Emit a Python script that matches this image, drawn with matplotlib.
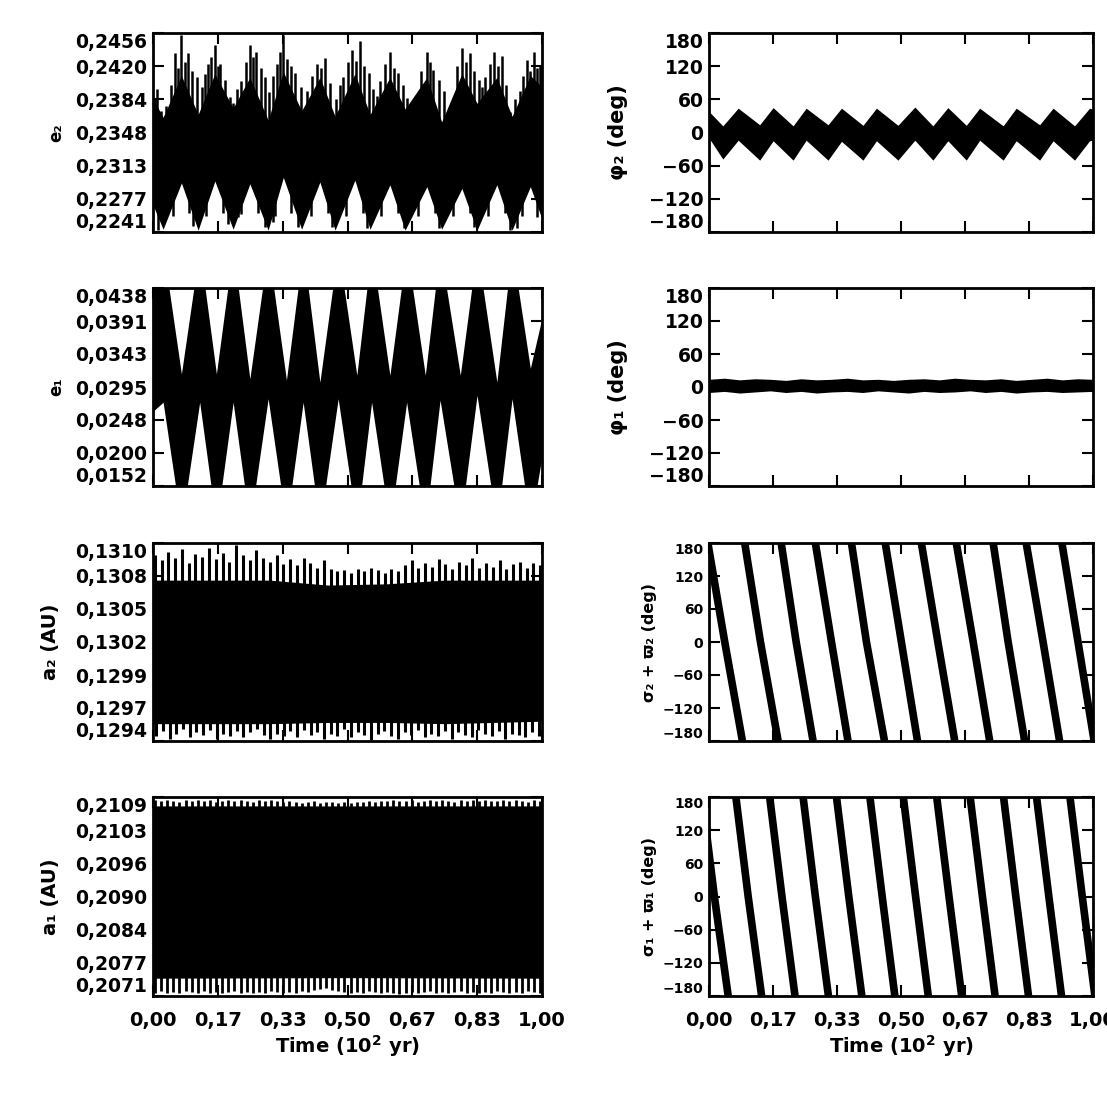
import matplotlib
matplotlib.use('Agg')
import matplotlib.pyplot as plt
import numpy as np

plt.rcParams['font.family'] = 'DejaVu Sans'
plt.rcParams['font.weight'] = 'bold'

# time in units of 10^2 yr
xticks = [0, 1/6, 2/6, 3/6, 4/6, 5/6, 1]
xticklabels = ['0,00', '0,17', '0,33', '0,50', '0,67', '0,83', '1,00']

# ---- e2 ----
e2_lim = [0.2241, 0.2456]
e2_ticks = ['0,2241', '0,2277', '0,2313', '0,2348', '0,2384', '0,2420', '0,2456']
e2_t = [0, 0.026, 0.073, 0.116, 0.159, 0.206, 0.249, 0.296, 0.335, 0.382, 0.429, 0.468,
        0.519, 0.558, 0.609, 0.648, 0.704, 0.742, 0.794, 0.833, 0.884, 0.923, 0.970, 1.0]
e2_hi = [0.2385, 0.2365, 0.2410, 0.2368, 0.2412, 0.2375, 0.2408, 0.2362, 0.2414, 0.2372, 0.2408, 0.2366,
         0.2412, 0.2368, 0.2408, 0.2374, 0.2408, 0.2360, 0.2412, 0.2380, 0.2408, 0.2366, 0.2410, 0.2398]
e2_lo = [0.2270, 0.2244, 0.2294, 0.2243, 0.2296, 0.2244, 0.2293, 0.2243, 0.2300, 0.2244, 0.2295, 0.2243,
         0.2297, 0.2244, 0.2292, 0.2243, 0.2290, 0.2244, 0.2288, 0.2243, 0.2292, 0.2243, 0.2290, 0.2255]
e2_up = [(0.004, 0.2385), (0.009, 0.2395), (0.020, 0.2372), (0.034, 0.2377), (0.045, 0.2400), (0.056, 0.2434),
         (0.065, 0.2418), (0.073, 0.2454), (0.082, 0.2425), (0.090, 0.2434), (0.100, 0.2415), (0.112, 0.2409),
         (0.125, 0.2398), (0.133, 0.2412), (0.142, 0.2423), (0.150, 0.2430), (0.159, 0.2443), (0.166, 0.2420),
         (0.172, 0.2423), (0.184, 0.2405), (0.197, 0.2387), (0.206, 0.2380), (0.215, 0.2396), (0.227, 0.2404),
         (0.238, 0.2425), (0.249, 0.2443), (0.258, 0.2430), (0.266, 0.2436), (0.277, 0.2418), (0.288, 0.2409),
         (0.298, 0.2392), (0.308, 0.2410), (0.318, 0.2423), (0.327, 0.2435), (0.335, 0.2454), (0.344, 0.2428),
         (0.355, 0.2420), (0.365, 0.2413), (0.380, 0.2398), (0.395, 0.2393), (0.408, 0.2410), (0.421, 0.2423),
         (0.432, 0.2418), (0.442, 0.2429), (0.455, 0.2402), (0.470, 0.2385), (0.480, 0.2400), (0.489, 0.2409),
         (0.500, 0.2425), (0.511, 0.2438), (0.521, 0.2426), (0.532, 0.2447), (0.543, 0.2420), (0.554, 0.2413),
         (0.566, 0.2395), (0.575, 0.2388), (0.584, 0.2404), (0.597, 0.2422), (0.609, 0.2436), (0.620, 0.2418),
         (0.631, 0.2413), (0.642, 0.2400), (0.652, 0.2386), (0.664, 0.2380), (0.678, 0.2389), (0.690, 0.2415),
         (0.704, 0.2436), (0.713, 0.2425), (0.721, 0.2416), (0.734, 0.2405), (0.747, 0.2393), (0.781, 0.2420),
         (0.794, 0.2440), (0.805, 0.2425), (0.815, 0.2434), (0.826, 0.2415), (0.837, 0.2405), (0.846, 0.2398),
         (0.854, 0.2409), (0.866, 0.2422), (0.876, 0.2436), (0.887, 0.2420), (0.897, 0.2431), (0.908, 0.2400),
         (0.918, 0.2371), (0.930, 0.2385), (0.944, 0.2393), (0.952, 0.2410), (0.961, 0.2427), (0.970, 0.2415),
         (0.979, 0.2436), (0.988, 0.2418), (0.996, 0.2420)]
e2_dn_t = [0.013, 0.030, 0.051, 0.093, 0.103, 0.137, 0.179, 0.193, 0.219, 0.227, 0.269, 0.288, 0.309,
           0.313, 0.355, 0.373, 0.407, 0.449, 0.459, 0.497, 0.539, 0.549, 0.587, 0.629, 0.644, 0.656,
           0.682, 0.724, 0.734, 0.772, 0.814, 0.824, 0.862, 0.904, 0.918, 0.935, 0.948, 0.987]
e2_dn = [0.2243, 0.2265, 0.2258, 0.2262, 0.2248, 0.2258, 0.2262, 0.2250, 0.2257, 0.2260, 0.2262, 0.2246, 0.2252,
         0.2258, 0.2262, 0.2246, 0.2258, 0.2262, 0.2246, 0.2258, 0.2262, 0.2245, 0.2258, 0.2262, 0.2245, 0.2257,
         0.2258, 0.2262, 0.2245, 0.2258, 0.2262, 0.2246, 0.2258, 0.2262, 0.2243, 0.2245, 0.2258, 0.2257]

# ---- e1 ----
e1_lim = [0.0152, 0.0438]
e1_ticks = ['0,0152', '0,0200', '0,0248', '0,0295', '0,0343', '0,0391', '0,0438']
e1_t = [0, 0.026, 0.073, 0.120, 0.163, 0.206, 0.249, 0.296, 0.343, 0.386, 0.429, 0.476,
        0.524, 0.562, 0.609, 0.652, 0.700, 0.738, 0.790, 0.833, 0.884, 0.923, 0.970, 1.0]
e1_hi = [0.0430, 0.0496, 0.0314, 0.0496, 0.0314, 0.0496, 0.0307, 0.0496, 0.0305, 0.0496, 0.0302, 0.0496,
         0.0312, 0.0496, 0.0312, 0.0496, 0.0312, 0.0496, 0.0312, 0.0496, 0.0302, 0.0496, 0.0322, 0.0395]
e1_lo = [0.0260, 0.0273, 0.0095, 0.0273, 0.0095, 0.0273, 0.0095, 0.0278, 0.0095, 0.0273, 0.0095, 0.0278,
         0.0095, 0.0273, 0.0095, 0.0273, 0.0095, 0.0276, 0.0095, 0.0283, 0.0095, 0.0278, 0.0095, 0.0195]

# ---- a2 ----
a2_lim = [0.1294, 0.1310]
a2_ticks = ['0,1294', '0,1297', '0,1299', '0,1302', '0,1305', '0,1308', '0,1310']
a2_core_t = [0, 0.30, 0.45, 0.60, 0.75, 1.0]
a2_core_hi = [0.13070, 0.13070, 0.13066, 0.13067, 0.13070, 0.13070]
a2_core_lo = [0.12954, 0.12954, 0.12955, 0.12955, 0.12954, 0.12956]
a2_up = [0.13090, 0.13086, 0.13093, 0.13088, 0.13095, 0.13084, 0.13091, 0.13089, 0.13096, 0.13087,
         0.13092, 0.13085, 0.13098, 0.13090, 0.13086, 0.13094, 0.13088, 0.13085, 0.13090, 0.13083,
         0.13087, 0.13082, 0.13088, 0.13084, 0.13080, 0.13086, 0.13079, 0.13077, 0.13078, 0.13076,
         0.13079, 0.13077, 0.13080, 0.13078, 0.13076, 0.13079, 0.13077, 0.13082, 0.13086, 0.13080,
         0.13084, 0.13081, 0.13087, 0.13083, 0.13079, 0.13085, 0.13082, 0.13088, 0.13080, 0.13084,
         0.13081, 0.13086, 0.13079, 0.13083, 0.13085, 0.13080, 0.13084, 0.13082]
a2_dn = [0.12944, 0.12948, 0.12942, 0.12946, 0.12950, 0.12943, 0.12947, 0.12945, 0.12949, 0.12942,
         0.12946, 0.12944, 0.12948, 0.12943, 0.12947, 0.12950, 0.12945, 0.12942, 0.12946, 0.12944,
         0.12948, 0.12943, 0.12949, 0.12945, 0.12947, 0.12942, 0.12946, 0.12944, 0.12950, 0.12943,
         0.12947, 0.12945, 0.12941, 0.12946, 0.12948, 0.12944, 0.12942, 0.12947, 0.12945, 0.12949,
         0.12943, 0.12946, 0.12944, 0.12948, 0.12942, 0.12947, 0.12945, 0.12943, 0.12949, 0.12946,
         0.12944, 0.12948, 0.12942, 0.12946, 0.12945, 0.12943, 0.12947, 0.12944]

# ---- a1 ----
a1_lim = [0.2071, 0.2109]
a1_ticks = ['0,2071', '0,2077', '0,2084', '0,2090', '0,2096', '0,2103', '0,2109']
a1_core_t = [0, 0.5, 1.0]
a1_core_hi = [0.21073, 0.21073, 0.21073]
a1_core_lo = [0.20744, 0.20745, 0.20744]
a1_up = [0.21084, 0.21082, 0.21085, 0.21083, 0.21081, 0.21084, 0.21082, 0.21085, 0.21083, 0.21084,
         0.21081, 0.21083, 0.21085, 0.21082, 0.21084, 0.21083, 0.21081, 0.21084, 0.21082, 0.21085,
         0.21083, 0.21080, 0.21082, 0.21081, 0.21079, 0.21080, 0.21082, 0.21079, 0.21081, 0.21080,
         0.21078, 0.21080, 0.21079, 0.21081, 0.21080, 0.21082, 0.21081, 0.21083, 0.21082, 0.21084,
         0.21083, 0.21082, 0.21084, 0.21081, 0.21083, 0.21085, 0.21082, 0.21084, 0.21083, 0.21081,
         0.21084, 0.21082, 0.21085, 0.21083, 0.21084, 0.21082, 0.21083, 0.21085, 0.21082, 0.21084,
         0.21083, 0.21081, 0.21084, 0.21082]
a1_dn = [0.20716, 0.20719, 0.20715, 0.20718, 0.20716, 0.20720, 0.20717, 0.20715, 0.20719, 0.20716,
         0.20718, 0.20715, 0.20717, 0.20719, 0.20716, 0.20718, 0.20715, 0.20717, 0.20716, 0.20719,
         0.20717, 0.20715, 0.20718, 0.20716, 0.20719, 0.20717, 0.20721, 0.20724, 0.20726, 0.20722,
         0.20719, 0.20717, 0.20715, 0.20718, 0.20716, 0.20719, 0.20717, 0.20715, 0.20718, 0.20716,
         0.20714, 0.20716, 0.20718, 0.20715, 0.20717, 0.20719, 0.20716, 0.20718, 0.20715, 0.20717,
         0.20719, 0.20716, 0.20718, 0.20715, 0.20717, 0.20716, 0.20719, 0.20717, 0.20715, 0.20718,
         0.20716, 0.20719, 0.20717, 0.20716]

# ---- angles (deg) ----
deg_ticks = [-180, -120, -60, 0, 60, 120, 180]
deg_labels = ['−180', '−120', '−60', '0', '60', '120', '180']
phi2_t = [0, 0.036, 0.076, 0.132, 0.167, 0.219, 0.253, 0.310, 0.345, 0.401, 0.436, 0.492,
          0.536, 0.583, 0.622, 0.670, 0.705, 0.766, 0.800, 0.861, 0.896, 0.952, 0.991, 1.0]
phi2_hi = [38, 12, 44, 14, 45, 12, 44, 14, 44, 13, 44, 13, 46, 12, 45, 13, 44, 12, 44, 14, 44, 12, 44, 42]
phi2_lo = [-10, -48, -14, -50, -15, -50, -14, -50, -16, -50, -15, -50, -14, -50, -15, -50, -14, -50,
           -15, -50, -15, -50, -15, -14]
phi1_t = [0, 0.04, 0.08, 0.12, 0.16, 0.20, 0.24, 0.28, 0.32, 0.36, 0.40, 0.44, 0.48, 0.52, 0.56,
          0.60, 0.64, 0.68, 0.72, 0.76, 0.80, 0.84, 0.88, 0.92, 0.96, 1.0]
phi1_hi = [14, 16, 13, 15, 14, 12, 15, 13, 14, 16, 13, 14, 12, 14, 15, 13, 16, 14, 13, 15, 12, 14, 16, 13, 15, 14]
phi1_lo = [-10, -8, -11, -9, -7, -10, -8, -11, -9, -8, -10, -7, -9, -11, -8, -10, -9, -7, -10, -8, -11, -9, -8, -10, -9, -8]
# times where the angle wraps: at +180, at 0 and at -180 for each pass
w2_top = [-0.003, 0.093, 0.188, 0.277, 0.371, 0.459, 0.553, 0.644, 0.740, 0.826, 0.919]
w2_mid = [0.041, 0.134, 0.227, 0.319, 0.410, 0.501, 0.596, 0.688, 0.779, 0.870, 0.961]
w2_bot = [0.087, 0.180, 0.271, 0.362, 0.457, 0.543, 0.640, 0.731, 0.822, 0.913, 1.003]
w1_top = [-0.018, 0.070, 0.158, 0.245, 0.332, 0.419, 0.506, 0.593, 0.680, 0.767, 0.853, 0.940]
w1_mid = [0.014, 0.102, 0.190, 0.277, 0.364, 0.451, 0.538, 0.625, 0.712, 0.799, 0.885, 0.972]
w1_bot = [0.050, 0.137, 0.224, 0.311, 0.398, 0.484, 0.571, 0.658, 0.745, 0.832, 0.918, 1.005]

fig = plt.figure(figsize=(11.07, 11.07), dpi=100)
colx = [(153, 389), (709, 384)]
rowy = [(33, 232), (288, 486), (543, 741), (797, 996)]


def add_ax(col, row):
    x0, w = colx[col]
    top, bot = rowy[row]
    return fig.add_axes([x0 / 1107, 1 - bot / 1107, w / 1107, (bot - top) / 1107])


def style(ax, lim, ticks, labels, ylabel, labx, fs=13.5, lfs=12, last=False):
    ax.set_xlim(0, 1)
    ax.set_ylim(lim)
    ax.set_xticks(xticks)
    ax.set_yticks(ticks)
    ax.set_yticklabels(labels, fontsize=fs, fontweight='bold')
    tl = ax.get_yticklabels()
    tl[0].set_va('bottom')
    tl[-1].set_va('top')
    ax.tick_params(direction='in', length=8, width=1.5, top=True, right=True, pad=4)
    ax.tick_params(axis='x', pad=11)
    for s in ax.spines.values():
        s.set_linewidth(2)
    if last:
        ax.set_xticklabels(xticklabels, fontsize=14, fontweight='bold')
        ax.set_xlabel('Time (10$^{2}$ yr)', fontsize=14, fontweight='bold', labelpad=2)
    else:
        ax.set_xticklabels([])
    ax.set_ylabel(ylabel, fontsize=lfs, fontweight='bold')
    ax.yaxis.set_label_coords(labx, 0.5)


# left column
ax = add_ax(0, 0)
ax.fill_between(e2_t, e2_lo, e2_hi, color='k', lw=0)
up_t, up_v = zip(*e2_up)
ax.vlines(up_t, 0.2340, up_v, color='k', lw=1.8)
ax.vlines(e2_dn_t, 0.2340, e2_dn, color='k', lw=1.8)
style(ax, e2_lim, np.linspace(*e2_lim, 7), e2_ticks, 'e₂', -0.225)

ax = add_ax(0, 1)
ax.fill_between(e1_t, e1_lo, e1_hi, color='k', lw=0)
style(ax, e1_lim, np.linspace(*e1_lim, 7), e1_ticks, 'e₁', -0.225)

ax = add_ax(0, 2)
ax.fill_between(a2_core_t, a2_core_lo, a2_core_hi, color='k', lw=0)
ax.vlines(np.linspace(0.005, 0.995, len(a2_up)), 0.1302, a2_up, color='k', lw=2.2)
ax.vlines(np.linspace(0.008, 0.992, len(a2_dn)), 0.1302, a2_dn, color='k', lw=2.2)
style(ax, a2_lim, np.linspace(*a2_lim, 7), a2_ticks, 'a₂ (AU)', -0.24, lfs=14)

ax = add_ax(0, 3)
ax.fill_between(a1_core_t, a1_core_lo, a1_core_hi, color='k', lw=0)
ax.vlines(np.linspace(0.005, 0.995, len(a1_up)), 0.2090, a1_up, color='k', lw=2.0)
ax.vlines(np.linspace(0.005, 0.995, len(a1_dn)), 0.2090, a1_dn, color='k', lw=2.0)
style(ax, a1_lim, np.linspace(*a1_lim, 7), a1_ticks, 'a₁ (AU)', -0.24, lfs=14, last=True)

# right column
ax = add_ax(1, 0)
ax.fill_between(phi2_t, phi2_lo, phi2_hi, color='k', lw=0)
style(ax, [-180, 180], deg_ticks, deg_labels, 'φ₂ (deg)', -0.21, lfs=15)

ax = add_ax(1, 1)
ax.fill_between(phi1_t, phi1_lo, phi1_hi, color='k', lw=0)
style(ax, [-180, 180], deg_ticks, deg_labels, 'φ₁ (deg)', -0.21, lfs=15)

ax = add_ax(1, 2)
for a, b, c in zip(w2_top, w2_mid, w2_bot):
    ax.plot([a, b, c], [180, 0, -180], color='k', lw=5.5, solid_capstyle='butt')
style(ax, [-180, 180], deg_ticks, deg_labels, 'σ₂ + ϖ₂ (deg)', -0.135, fs=10, lfs=11.5)

ax = add_ax(1, 3)
for a, b, c in zip(w1_top, w1_mid, w1_bot):
    ax.plot([a, b, c], [180, 0, -180], color='k', lw=5.5, solid_capstyle='butt')
style(ax, [-180, 180], deg_ticks, deg_labels, 'σ₁ + ϖ₁ (deg)', -0.135, fs=10, lfs=11.5, last=True)

fig.savefig('out.png', dpi=100)
